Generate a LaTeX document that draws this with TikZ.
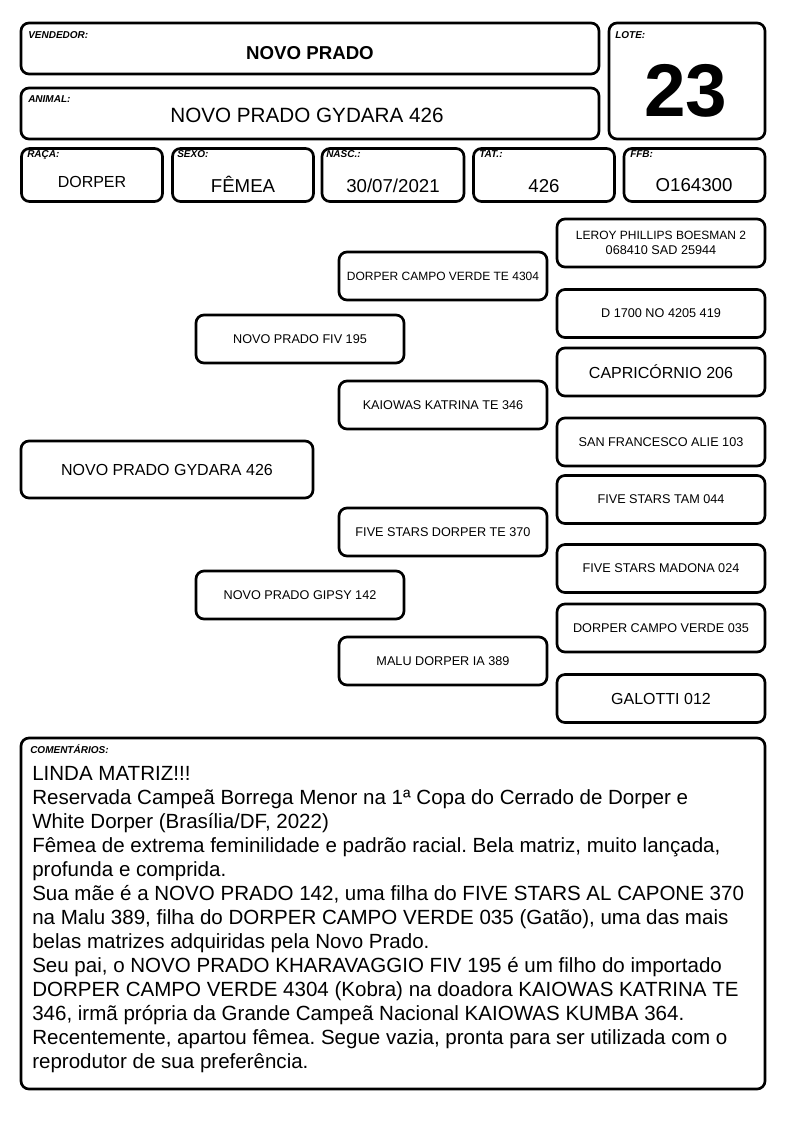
\documentclass[tikz,border=0pt]{standalone}
\usepackage{fontspec}
\setmainfont{Liberation Sans}
\usetikzlibrary{positioning}
\frenchspacing

\tikzset{
  cell/.style 2 args={draw, line width=2pt, rounded corners=6pt, minimum width=#1*0.75pt, minimum height=#2*0.75pt, inner sep=0pt},
  tag/.style={font=\bfseries\itshape\fontsize{7.5}{9}\selectfont, anchor=base west, inner sep=0pt},
  val/.style={font=\fontsize{14}{16}\selectfont, anchor=base, inner sep=0pt},
  ped/.style={cell={208}{48}, font=\fontsize{9.5}{11.5}\selectfont, align=center},
}

\begin{document}
\begin{tikzpicture}[x=0.75pt, y=-0.75pt]
  \useasboundingbox[fill=white] (0,0) rectangle (794,1123);

  % header
  \node[cell={578}{51}] (vendedor) at (310,48.5) {};
  \node[tag] at (28,39) {VENDEDOR:};
  \node[val, font=\bfseries\fontsize{14}{16}\selectfont] (vendname) at (vendedor.center |- 0,60) {NOVO PRADO};

  \node[cell={578}{51}] (animal) at (310,113.5) {};
  \node[tag] at (28,103) {ANIMAL:};
  \node[val, font=\fontsize{15.5}{18}\selectfont] (animalname) at (307,123) {NOVO PRADO GYDARA 426};

  \node[cell={156}{116}] (lote) at (687,81) {};
  \node[tag] at (615,39) {LOTE:};
  \node[val, font=\bfseries\fontsize{56}{60}\selectfont] (lotenum) at (686,117) {23};

  % dados
  \node[cell={141}{53}] (raca) at (92,175) {};
  \node[tag] at (27,158) {RAÇA:};
  \node[val, font=\fontsize{12}{14}\selectfont] at (92,188) {DORPER};

  \node[cell={141}{53}] (sexo) at (243,175) {};
  \node[tag] at (177,158) {SEXO:};
  \node[val] at (243,193) {FÊMEA};

  \node[cell={142}{53}] (nasc) at (393,175) {};
  \node[tag] at (326,158) {NASC.:};
  \node[val] at (393,193) {30/07/2021};

  \node[cell={141}{53}] (tat) at (544,175) {};
  \node[tag] at (479,158) {TAT.:};
  \node[val] at (544,193) {426};

  \node[cell={141}{53}] (ffb) at (694.5,175) {};
  \node[tag] at (630,158) {FFB:};
  \node[val] at (694,192) {O164300};

  % genealogia
  \node[cell={292}{57}, font=\fontsize{12}{14}\selectfont] (gydara) at (167,469.5) {NOVO PRADO GYDARA 426};

  \node[ped] (pai) at (300,339) {NOVO PRADO FIV 195};
  \node[ped] (mae) at (300,595) {NOVO PRADO GIPSY 142};

  \node[ped, font=\fontsize{9}{11}\selectfont] (avopp) at (443,276) {DORPER CAMPO VERDE TE 4304};
  \node[ped] (avopm) at (443,405) {KAIOWAS KATRINA TE 346};
  \node[ped] (avomp) at (443,532) {FIVE STARS DORPER TE 370};
  \node[ped] (avomm) at (443,661) {MALU DORPER IA 389};

  \foreach \y/\n/\t in {243/bis1/{\fontsize{9}{11.5}\selectfont LEROY PHILLIPS BOESMAN 2\\068410 SAD 25944},
                        313.5/bis2/{D 1700 NO 4205 419},
                        372/bis3/{\fontsize{12}{14}\selectfont CAPRICÓRNIO 206},
                        442/bis4/{SAN FRANCESCO ALIE 103},
                        499.5/bis5/{FIVE STARS TAM 044},
                        568.5/bis6/{FIVE STARS MADONA 024},
                        628/bis7/{DORPER CAMPO VERDE 035},
                        698.5/bis8/{\fontsize{12}{14}\selectfont GALOTTI 012}}
    \node[ped] (\n) at (661,\y) {\t};

  % comentarios
  \node[cell={744}{351}] (coment) at (393,913.5) {};
  \node[tag] at (30,753) {COMENTÁRIOS:};
  % base = ultima linha
  \node[anchor=base west, align=left, inner sep=0pt, font=\fontsize{15.4}{18}\selectfont] (comtext) at (32,1068) {LINDA MATRIZ!!!\\
Reservada Campeã Borrega Menor na 1ª Copa do Cerrado de Dorper e\\
White Dorper (Brasília/DF, 2022)\\
Fêmea de extrema feminilidade e padrão racial. Bela matriz, muito lançada,\\
profunda e comprida.\\
Sua mãe é a NOVO PRADO 142, uma filha do FIVE STARS AL CAPONE 370\\
na Malu 389, filha do DORPER CAMPO VERDE 035 (Gatão), uma das mais\\
belas matrizes adquiridas pela Novo Prado.\\
Seu pai, o NOVO PRADO KHARAVAGGIO FIV 195 é um filho do importado\\
DORPER CAMPO VERDE 4304 (Kobra) na doadora KAIOWAS KATRINA TE\\
346, irmã própria da Grande Campeã Nacional KAIOWAS KUMBA 364.\\
Recentemente, apartou fêmea. Segue vazia, pronta para ser utilizada com o\\
reprodutor de sua preferência.};
\end{tikzpicture}
\end{document}
